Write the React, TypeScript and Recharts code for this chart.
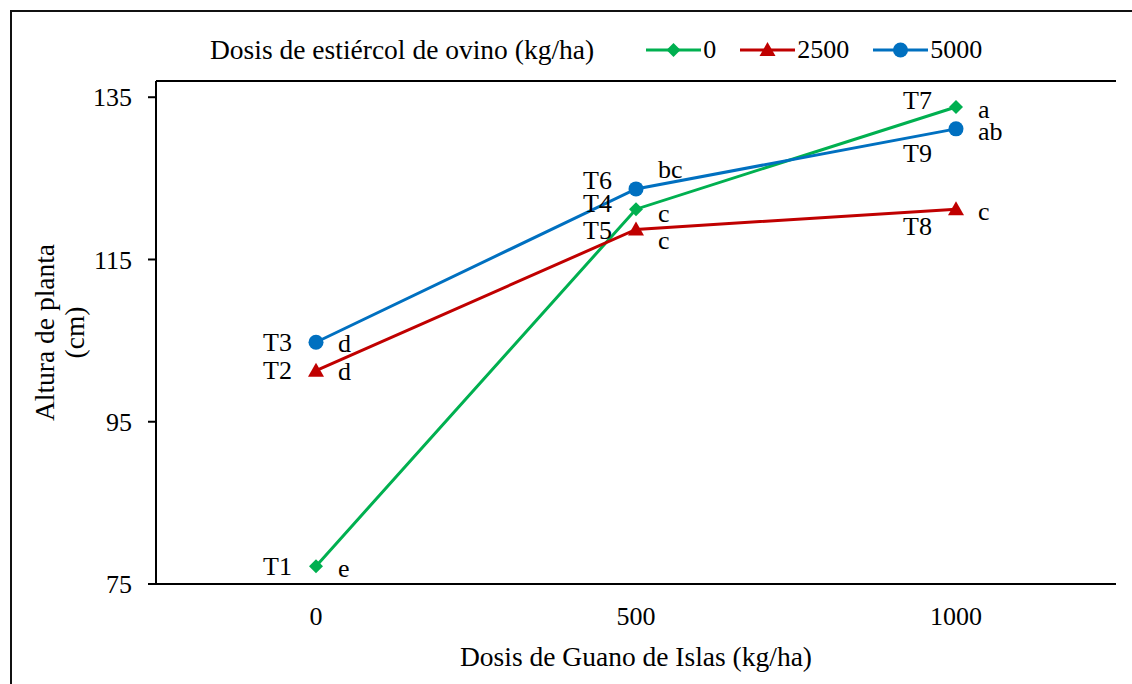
import React from 'react';
import { LineChart, Line, XAxis, YAxis, LabelList, Label, ReferenceLine } from 'recharts';

// Dosis de Guano de Islas (kg/ha) on the x axis
const guanoDoses = ['0', '500', '1000'];

// Altura de planta (cm), one array per dosis de estiércol de ovino
const altura0 = [77.2, 121.2, 133.8];
const altura2500 = [101.3, 118.7, 121.2];
const altura5000 = [104.8, 123.7, 131.1];

const treatments0 = ['T1', 'T4', 'T7'];
const treatments2500 = ['T2', 'T5', 'T8'];
const treatments5000 = ['T3', 'T6', 'T9'];

const letters0 = ['e', 'c', 'a'];
const letters2500 = ['d', 'c', 'c'];
const letters5000 = ['d', 'bc', 'ab'];

const yTicks = [75, 95, 115, 135];
const yDomain: [number, number] = [75, 137];

const FONT = "'Liberation Serif', 'DejaVu Serif', serif";

type Shape = 'diamond' | 'triangle' | 'circle';

const series: { key: string; name: string; color: string; shape: Shape; tags: string[]; letters: string[] }[] = [
  { key: 's0', name: '0', color: '#00B050', shape: 'diamond', tags: treatments0, letters: letters0 },
  { key: 's2500', name: '2500', color: '#C00000', shape: 'triangle', tags: treatments2500, letters: letters2500 },
  { key: 's5000', name: '5000', color: '#0070C0', shape: 'circle', tags: treatments5000, letters: letters5000 },
];

const data = guanoDoses.map((dose, i) => ({
  dose,
  s0: altura0[i],
  s2500: altura2500[i],
  s5000: altura5000[i],
}));

// vertical nudge of [treatment tag, significance letter] around each point
const nudge: Record<string, [number, number]> = {
  T1: [0, 2], T2: [0, 1], T3: [0, 1],
  T4: [-6, 4], T5: [1, 11], T6: [-8, -19],
  T7: [-6, 3], T8: [17, 2], T9: [25, 3],
};

const tickStyle = { fontFamily: FONT, fontSize: 26, fill: '#000' };
const titleStyle = { fontFamily: FONT, fontSize: 27.5, fill: '#000' };

function Marker({ cx, cy, shape, color }: { cx: number; cy: number; shape: Shape; color: string }) {
  if (shape === 'diamond') {
    const s = 7;
    return <polygon points={`${cx},${cy - s} ${cx + s},${cy} ${cx},${cy + s} ${cx - s},${cy}`} fill={color} />;
  }
  if (shape === 'triangle') {
    return <polygon points={`${cx},${cy - 8} ${cx + 8},${cy + 6} ${cx - 8},${cy + 6}`} fill={color} />;
  }
  return <circle cx={cx} cy={cy} r={7.5} fill={color} />;
}

function makeDot(shape: Shape, color: string) {
  return (p: any) => {
    if (p.cx == null || p.cy == null) return <g key={`${shape}-${p.index}`} />;
    return <Marker key={`${shape}-${p.index}`} cx={p.cx} cy={p.cy} shape={shape} color={color} />;
  };
}

function makePointLabel(tags: string[], letters: string[]) {
  return (p: any) => {
    const x = p.x ?? p.viewBox?.x;
    const y = p.y ?? p.viewBox?.y;
    if (x == null || y == null) return null;
    const tag = tags[p.index];
    const [dt, dl] = nudge[tag] ?? [0, 0];
    return (
      <g>
        <text x={x - 24} y={y + dt} textAnchor="end" dominantBaseline="central" style={tickStyle}>{tag}</text>
        <text x={x + 22} y={y + dl} textAnchor="start" dominantBaseline="central" style={tickStyle}>
          {letters[p.index]}
        </text>
      </g>
    );
  };
}

function YTitle({ viewBox }: any) {
  const cx = viewBox.x + 54;
  const cy = viewBox.y + viewBox.height / 2;
  return (
    <text transform={`rotate(-90 ${cx} ${cy})`} x={cx} y={cy} textAnchor="middle" style={titleStyle}>
      <tspan x={cx} dy={0}>Altura de planta</tspan>
      <tspan x={cx} dy={30}>(cm)</tspan>
    </text>
  );
}

function LegendBar() {
  return (
    <div style={{
      position: 'absolute', left: 210, top: 34, display: 'flex', alignItems: 'center',
      fontFamily: FONT, fontSize: 26, color: '#000', whiteSpace: 'nowrap', lineHeight: '32px',
    }}>
      <span style={{ marginRight: 52, fontSize: 27.5 }}>Dosis de estiércol de ovino (kg/ha)</span>
      {series.map((s) => (
        <span key={s.key} style={{ display: 'flex', alignItems: 'center', marginRight: 24 }}>
          <svg width={55} height={20}>
            <line x1={0} y1={10} x2={55} y2={10} stroke={s.color} strokeWidth={3} />
            <Marker cx={27.5} cy={10} shape={s.shape} color={s.color} />
          </svg>
          <span style={{ marginLeft: 2 }}>{s.name}</span>
        </span>
      ))}
    </div>
  );
}

export default function App() {
  return (
    <div style={{ position: 'fixed', left: 0, top: 0, width: 1132, height: 684, overflow: 'hidden', background: '#fff' }}>
      <div style={{
        position: 'absolute', left: 10, top: 10, width: 1200, height: 800,
        borderLeft: '2px solid #111', borderTop: '2px solid #111',
      }} />
      <div style={{ position: 'absolute', left: 0, top: 0 }}>
        <LineChart width={1132} height={684} data={data}
          margin={{ top: 81, right: 16, bottom: 0, left: 0 }}>
          <XAxis dataKey="dose" height={100} tickLine={false} padding={{ left: 160, right: 160 }}
            axisLine={{ stroke: '#000', strokeWidth: 2 }} tickMargin={17}
            tick={tickStyle}>
            <Label value="Dosis de Guano de Islas (kg/ha)" position="insideBottom" offset={18}
              style={titleStyle} />
          </XAxis>
          <YAxis width={156} domain={yDomain} ticks={yTicks} interval={0}
            tickSize={8} tickMargin={16}
            tickLine={{ stroke: '#000', strokeWidth: 2 }}
            axisLine={{ stroke: '#000', strokeWidth: 2 }}
            tick={tickStyle}
            allowDataOverflow>
            <Label content={<YTitle />} />
          </YAxis>
          <YAxis yAxisId="right" orientation="right" width={0} tick={false} tickLine={false}
            domain={yDomain} axisLine={{ stroke: '#000', strokeWidth: 2 }} />
          <ReferenceLine y={yDomain[1]} stroke="#000" strokeWidth={2} />
          {series.map((s) => (
            <Line key={s.key} type="linear" dataKey={s.key} name={s.name} stroke={s.color}
              strokeWidth={3} dot={makeDot(s.shape, s.color)} activeDot={false}
              isAnimationActive={false}>
              <LabelList dataKey={s.key} content={makePointLabel(s.tags, s.letters)} />
            </Line>
          ))}
        </LineChart>
      </div>
      <LegendBar />
    </div>
  );
}
